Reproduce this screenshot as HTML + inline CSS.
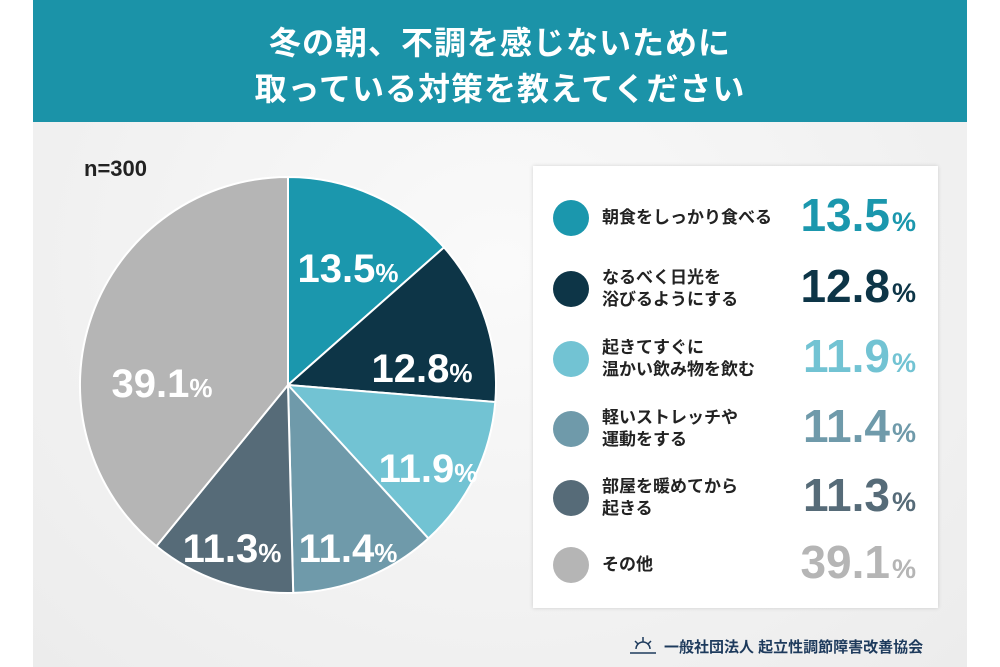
<!DOCTYPE html>
<html><head><meta charset="utf-8"><style>
body{margin:0;width:1000px;height:667px;background:#fff;overflow:hidden;font-family:"Liberation Sans","Noto Sans CJK JP",sans-serif;}
#bg{position:absolute;left:33px;top:0;width:934px;height:667px;background:radial-gradient(ellipse at 50% 40%,#fafafa,#ececec);}
#hd{position:absolute;left:33px;top:0;width:934px;height:122px;background:#1b93a8;color:#fff;text-align:center;font-weight:bold;font-size:32px;line-height:46px;padding-top:20px;box-sizing:border-box;letter-spacing:1px}
#n{position:absolute;left:84px;top:156px;font-size:22px;font-weight:bold;color:#222}
#lg{position:absolute;left:533px;top:166px;width:405px;height:442px;background:#fff;box-shadow:0 0 4px rgba(0,0,0,.15)}
.r{position:absolute;left:0;width:405px;height:50px}
.c{position:absolute;left:20px;top:7px;width:36px;height:36px;border-radius:50%}
.t{position:absolute;left:69px;top:0;height:50px;display:flex;align-items:center;font-size:17px;font-weight:bold;color:#222;line-height:22px}
.v{position:absolute;right:22px;top:-5px;font-size:46px;font-weight:bold;letter-spacing:0px}
.v small{font-size:27px;margin-left:2px}
#ft{position:absolute;left:664px;top:636px;font-size:15px;font-weight:bold;color:#1d3a5c}
</style></head><body>
<div id="bg"></div>
<div id="hd">冬の朝、不調を感じないために<br>取っている対策を教えてください</div>
<div id="n">n=300</div>
<svg style="position:absolute;left:0;top:0" width="1000" height="667">
<g stroke="#fff" stroke-width="2">
<path d="M288,385 L288,177 A208,208 0 0 1 444.0,247.4Z" fill="#1b97ad"/>
<path d="M288,385 L444.0,247.4 A208,208 0 0 1 495.3,402.0Z" fill="#0d3547"/>
<path d="M288,385 L495.3,402.0 A208,208 0 0 1 428.4,538.4Z" fill="#72c3d3"/>
<path d="M288,385 L428.4,538.4 A208,208 0 0 1 293.2,592.9Z" fill="#6f9aaa"/>
<path d="M288,385 L293.2,592.9 A208,208 0 0 1 156.4,546.1Z" fill="#566b78"/>
<path d="M288,385 L156.4,546.1 A208,208 0 0 1 288,177Z" fill="#b5b5b5"/>
</g>
<g fill="#fff" font-weight="bold" font-size="40" font-family="Liberation Sans,sans-serif" text-anchor="middle">
<text x="348" y="282">13.5<tspan font-size="26">%</tspan></text>
<text x="422" y="382">12.8<tspan font-size="26">%</tspan></text>
<text x="428" y="482">11.9<tspan font-size="26">%</tspan></text>
<text x="348" y="562">11.4<tspan font-size="26">%</tspan></text>
<text x="232" y="562">11.3<tspan font-size="26">%</tspan></text>
<text x="162" y="397">39.1<tspan font-size="26">%</tspan></text>
</g>
<g stroke="#1d3a5c" stroke-width="1.5" fill="none"><path d="M630,653 H656 M636,649 a7,7 0 0 1 14,0 M643,637 v5 M635,641 l3,3 M651,641 l-3,3"/></g>
</svg>
<div id="lg">
<div class="r" style="top:27px"><div class="c" style="background:#1b97ad"></div><div class="t">朝食をしっかり食べる</div><div class="v" style="color:#1b97ad">13.5<small>%</small></div></div>
<div class="r" style="top:98px"><div class="c" style="background:#0d3547"></div><div class="t">なるべく日光を<br>浴びるようにする</div><div class="v" style="color:#0d3547">12.8<small>%</small></div></div>
<div class="r" style="top:168px"><div class="c" style="background:#72c3d3"></div><div class="t">起きてすぐに<br>温かい飲み物を飲む</div><div class="v" style="color:#72c3d3">11.9<small>%</small></div></div>
<div class="r" style="top:238px"><div class="c" style="background:#6f9aaa"></div><div class="t">軽いストレッチや<br>運動をする</div><div class="v" style="color:#6f9aaa">11.4<small>%</small></div></div>
<div class="r" style="top:307px"><div class="c" style="background:#566b78"></div><div class="t">部屋を暖めてから<br>起きる</div><div class="v" style="color:#566b78">11.3<small>%</small></div></div>
<div class="r" style="top:374px"><div class="c" style="background:#b5b5b5"></div><div class="t">その他</div><div class="v" style="color:#b5b5b5">39.1<small>%</small></div></div>
</div>
<div id="ft">一般社団法人 起立性調節障害改善協会</div>
</body></html>
